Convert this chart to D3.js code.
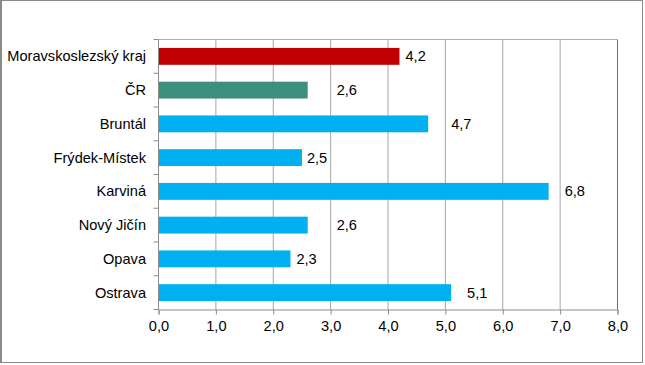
<!DOCTYPE html>
<html><head><meta charset="utf-8">
<script src="https://cdn.jsdelivr.net/npm/d3@7"></script>
<style>body{margin:0;background:#fff}svg{display:block}text{font-family:"Liberation Sans",Arial,sans-serif}</style>
</head><body><svg id="c" width="645" height="365"></svg>
<script>
const categories = ["Moravskoslezský kraj","ČR","Bruntál","Frýdek-Místek","Karviná","Nový Jičín","Opava","Ostrava"];
const values = [4.2, 2.6, 4.7, 2.5, 6.8, 2.6, 2.3, 5.1];
const barColors = ["#C00000","#3E8E7E","#00B0F0","#00B0F0","#00B0F0","#00B0F0","#00B0F0","#00B0F0"];
const labelGap = [6, 29, 23, 5, 16, 29, 6, 16];
const xTicks = [0,1,2,3,4,5,6,7,8];

const FS = 14.6;
const svg = d3.select("#c");
svg.append("rect").attr("x",0.5).attr("y",0.5).attr("width",642).attr("height",362)
  .attr("fill","#fff").attr("stroke","#8a8a8a").attr("stroke-width",1);
svg.append("line").attr("x1",1).attr("x2",1).attr("y1",0).attr("y2",363).attr("stroke","#8a8a8a").attr("stroke-width",2);

const L=158.5, R=617.5, T=39.5, B=309.5;
const fmt = v => d3.format(".1f")(v).replace(".", ",");
const x = d3.scaleLinear().domain([0,8]).range([L,R]);
const y = d3.scaleBand().domain(categories).range([T,B]).paddingInner(0.5).paddingOuter(0.25);

// grid
svg.append("g").selectAll("line").data(xTicks.filter(d=>d>0&&d<8)).join("line")
  .attr("x1",d=>x(d)).attr("x2",d=>x(d)).attr("y1",T).attr("y2",B)
  .attr("stroke","#a6a6a6").attr("stroke-width",1);
svg.append("line").attr("x1",L).attr("x2",R).attr("y1",T).attr("y2",T).attr("stroke","#b0b0b0");
svg.append("line").attr("x1",R).attr("x2",R).attr("y1",T).attr("y2",B).attr("stroke","#6e6e6e");

// bars
svg.append("g").selectAll("rect").data(categories).join("rect")
  .attr("x",x(0)).attr("y",d=>y(d)).attr("height",y.bandwidth())
  .attr("width",(d,i)=>x(values[i])-x(0)).attr("fill",(d,i)=>barColors[i]);

// value labels
svg.append("g").selectAll("text").data(categories).join("text")
  .attr("x",(d,i)=>x(values[i])+labelGap[i]).attr("y",d=>y(d)+y.bandwidth()/2)
  .attr("dy","0.35em").attr("font-size",FS).attr("fill","#000")
  .text((d,i)=>fmt(values[i]));

// x axis
const xa = svg.append("g").attr("transform",`translate(0,${B})`)
  .call(d3.axisBottom(x).tickValues(xTicks).tickFormat(fmt).tickSize(5).tickPadding(6));
xa.select(".domain").attr("stroke","#8c8c8c");
xa.selectAll(".tick line").attr("stroke","#8c8c8c");
xa.selectAll("text").attr("font-size",FS).attr("fill","#000").attr("font-family","'Liberation Sans',Arial,sans-serif");

// y axis
svg.append("line").attr("x1",L).attr("x2",L).attr("y1",T).attr("y2",B).attr("stroke","#8c8c8c");
const bounds = d3.range(categories.length+1).map(i=>T+i*(B-T)/categories.length);
svg.append("g").selectAll("line").data(bounds).join("line")
  .attr("x1",L-5).attr("x2",L).attr("y1",d=>d).attr("y2",d=>d).attr("stroke","#8c8c8c");
svg.append("g").selectAll("text").data(categories).join("text")
  .attr("x",L-12.5).attr("y",d=>y(d)+y.bandwidth()/2).attr("dy","0.35em")
  .attr("text-anchor","end").attr("font-size",FS).attr("fill","#000").text(d=>d);
</script></body></html>
